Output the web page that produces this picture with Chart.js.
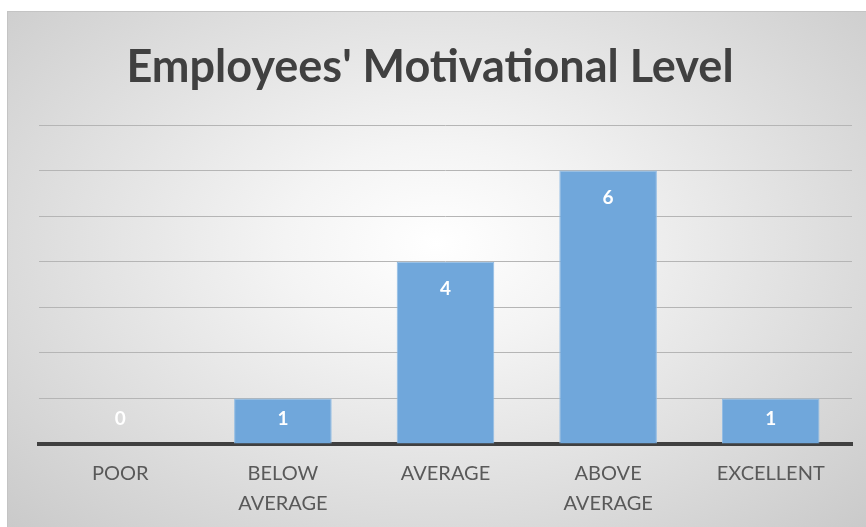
<!DOCTYPE html>
<html>
<head>
<meta charset="utf-8">
<script src="https://cdn.jsdelivr.net/npm/chart.js@4.4.1/dist/chart.umd.min.js"></script>
<style>
  html, body { margin: 0; padding: 0; background: #ffffff; }
  #box {
    position: absolute; left: 7px; top: 11px; width: 859px; height: 516px;
    background: radial-gradient(ellipse farthest-corner at 50% 45%, #ffffff 0%, #f4f4f4 25%, #cacaca 100%);
    border-top: 1px solid #c4c4c4; border-left: 1px solid #c4c4c4;
    box-sizing: border-box;
  }
  #box canvas { position: absolute; left: 0; top: 0; }
</style>
</head>
<body>
<div id="box"><canvas id="chart" width="859" height="516"></canvas></div>
<script>
// 직원 동기부여 수준
var categories = [["POOR"], ["BELOW", "AVERAGE"], ["AVERAGE"], ["ABOVE", "AVERAGE"], ["EXCELLENT"]];
var counts = [0, 1, 4, 6, 1];
var yMin = 0, yMax = 7;

// 막대 안쪽 값 라벨
var barLabels = {
  id: 'barLabels',
  afterDatasetsDraw: function(chart){
    var ctx = chart.ctx;
    var meta = chart.getDatasetMeta(0);
    ctx.save();
    ctx.fillStyle = '#ffffff';
    ctx.font = 'bold 19px Lato';
    ctx.textAlign = 'center';
    ctx.textBaseline = 'middle';
    meta.data.forEach(function(bar, i){
      var y = Math.min(bar.y + 27, bar.base - 25);
      ctx.fillText(String(counts[i]), bar.x, y);
    });
    ctx.restore();
  }
};

const data = {
  labels: categories,
  datasets: [{
    data: counts,
    backgroundColor: '#70a7db',
    borderColor: '#8fbbe4',
    borderWidth: 1,
    barPercentage: 0.6,
    categoryPercentage: 1
  }]
};

const config = {
  type: 'bar',
  data: data,
  options: {
    responsive: false,
    animation: false,
    layout: { padding: { top: 28, left: 0, right: 15, bottom: 0 } },
    plugins: {
      legend: { display: false },
      tooltip: { enabled: false },
      title: {
        display: true,
        text: "Employees' Motivational Level",
        color: '#404040',
        font: { family: 'Lato', size: 45, weight: 'bold', lineHeight: 1.2 },
        padding: { top: 0, bottom: 31 }
      }
    },
    scales: {
      x: {
        grid: { display: false },
        border: { display: true, color: '#404040', width: 4 },
        ticks: {
          color: '#595959',
          font: { family: 'Lato', size: 20, lineHeight: 1.5 },
          padding: 7,
          maxRotation: 0
        },
        afterFit: function(scale){ scale.height = 84; }
      },
      y: {
        min: yMin,
        max: yMax,
        ticks: { display: false, stepSize: 1 },
        grid: { color: '#b5b5b5', drawTicks: false, lineWidth: 1 },
        border: { display: false },
        afterFit: function(scale){ scale.width = 31; }
      }
    }
  },
  plugins: [barLabels]
};

const myChart = new Chart(document.getElementById('chart'), config);
</script>
</body>
</html>
